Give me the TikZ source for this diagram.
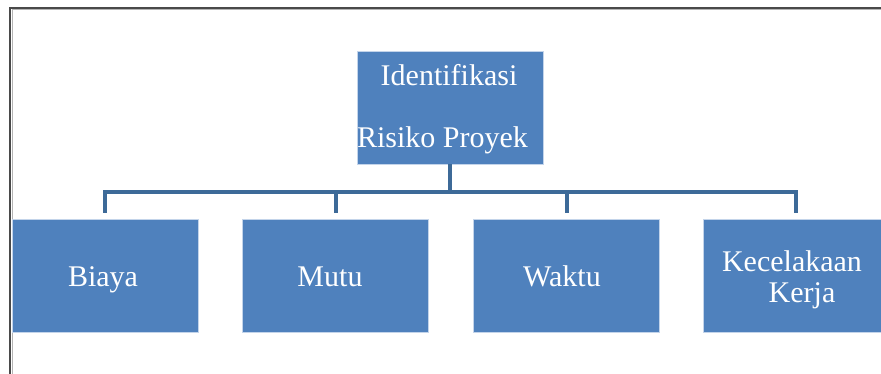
\documentclass[tikz,border=0pt]{standalone}
\usepackage{fontspec}
\setmainfont{Liberation Serif}
\definecolor{boxblue}{HTML}{4F81BD}
\definecolor{boxedge}{HTML}{C3D4EA}
\definecolor{linkblue}{HTML}{3D6A98}
\definecolor{framedark}{HTML}{4A4A4A}
\definecolor{framelight}{HTML}{B4B4B4}
\tikzset{
  orgbox/.style={rectangle, fill=boxblue, draw=boxedge, line width=0.8pt,
    inner sep=0pt, minimum width=186pt, minimum height=113pt},
  boxtext/.style={anchor=base, inner sep=0pt, text=white,
    font=\fontsize{30}{36}\selectfont},
  link/.style={draw=linkblue, line width=4pt, line join=miter},
  frameline/.style={draw=framedark, line width=2pt},
  frameshade/.style={draw=framelight, line width=0.9pt}
}
\begin{document}
\begin{tikzpicture}[x=1pt, y=-1pt]
\useasboundingbox (0,0) rectangle (881,373);

% outer frame (only top and left edges fall inside the page)
\draw[frameline] (10.3,390) -- (10.3,8) -- (900,8);
\draw[frameshade] (12.2,390) -- (12.2,9.9) -- (900,9.9);

% boxes
\node[orgbox] (top)   at (450,107.5) {};
\node[orgbox] (biaya) at (105,275.5) {};
\node[orgbox] (mutu)  at (335.5,275.5) {};
\node[orgbox] (waktu) at (566.5,275.5) {};
\node[orgbox] (kerja) at (796,275.5) {};

% labels
\node[boxtext] (tIdent)  at (449,85)    {Identifikasi};
\node[boxtext] (tRisiko) at (442.5,147) {Risiko Proyek};
\node[boxtext] (tBiaya)  at (103,286)   {Biaya};
\node[boxtext] (tMutu)   at (330,286)   {Mutu};
\node[boxtext] (tWaktu)  at (562,286)   {Waktu};
\node[boxtext] (tKec)    at (792,271)   {Kecelakaan};
\node[boxtext] (tKerja)  at (802,302)   {Kerja};

% bus connectors
\coordinate (busY) at (0,192);
\draw[link] (top.south) -- (top.south |- busY);
\draw[link] ([yshift=6pt]biaya.north) -- (biaya.north |- busY)
  -- (kerja.north |- busY) -- ([yshift=6pt]kerja.north);
\draw[link] (mutu.north |- busY) -- ([yshift=6pt]mutu.north);
\draw[link] (waktu.north |- busY) -- ([yshift=6pt]waktu.north);
\end{tikzpicture}
\end{document}
